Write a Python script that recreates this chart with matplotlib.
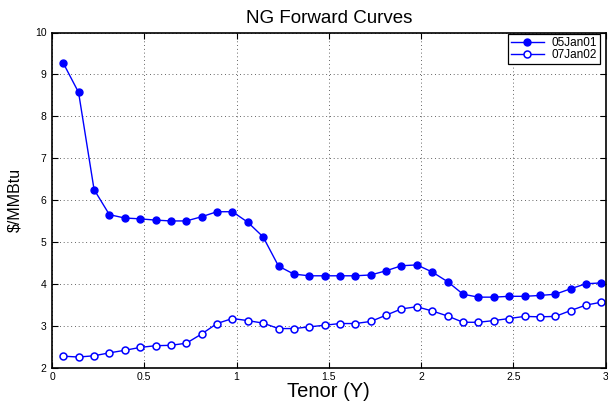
import matplotlib
matplotlib.use("Agg")
import matplotlib.pyplot as plt

plt.rcParams['font.family'] = ['Liberation Sans', 'DejaVu Sans']

tenor = [0.061, 0.144, 0.228, 0.311, 0.394, 0.478, 0.561, 0.644, 0.728, 0.811, 0.894, 0.978,
         1.061, 1.144, 1.228, 1.311, 1.394, 1.478, 1.561, 1.644, 1.728, 1.811, 1.894, 1.978,
         2.061, 2.144, 2.228, 2.311, 2.394, 2.478, 2.561, 2.644, 2.728, 2.811, 2.894, 2.978]
curve_05jan01 = [9.27, 8.57, 6.25, 5.65, 5.57, 5.55, 5.52, 5.50, 5.50, 5.60, 5.72, 5.72,
                 5.47, 5.12, 4.42, 4.23, 4.19, 4.19, 4.19, 4.19, 4.21, 4.31, 4.43, 4.45,
                 4.28, 4.05, 3.75, 3.68, 3.68, 3.70, 3.70, 3.72, 3.75, 3.88, 4.00, 4.02]
curve_07jan02 = [2.27, 2.25, 2.28, 2.35, 2.41, 2.48, 2.52, 2.53, 2.58, 2.80, 3.05, 3.17,
                 3.12, 3.06, 2.93, 2.93, 2.97, 3.01, 3.05, 3.05, 3.10, 3.25, 3.40, 3.45,
                 3.35, 3.23, 3.08, 3.08, 3.12, 3.17, 3.22, 3.21, 3.22, 3.36, 3.49, 3.56]
labels = ['05Jan01', '07Jan02']
xticks = [0, 0.5, 1, 1.5, 2, 2.5, 3]
xticklabels = ['0', '0.5', '1', '1.5', '2', '2.5', '3']
yticks = [2, 3, 4, 5, 6, 7, 8, 9, 10]

fig = plt.figure(figsize=(6.08, 4.01), dpi=100)
ax = fig.add_axes([52 / 608, 33.5 / 401, 553.5 / 608, 335 / 401])

ax.plot(tenor, curve_05jan01, '-o', color='blue', lw=1.0, ms=5.0,
        mfc='blue', mec='blue', label=labels[0])
ax.plot(tenor, curve_07jan02, '-o', color='blue', lw=1.0, ms=5.0,
        mfc='white', mec='blue', mew=1.1, label=labels[1])

ax.set_xlim(0, 3)
ax.set_ylim(2, 10)
ax.set_xticks(xticks)
ax.set_xticklabels(xticklabels)
ax.set_yticks(yticks)
ax.tick_params(direction='in', labelsize=7.5, length=4, top=True, right=True, width=0.8)
ax.tick_params(axis='x', pad=3)
ax.tick_params(axis='y', pad=4)
ax.grid(True, color='#303030', linewidth=0.6, linestyle=(0, (1, 3.5)))
for s in ax.spines.values():
    s.set_linewidth(1.2)
    s.set_color('black')

ax.set_title('NG Forward Curves', fontsize=13.5, pad=7)
ax.set_xlabel('Tenor (Y)', fontsize=14.5, labelpad=0)
ax.set_ylabel(r'\$/MMBtu', fontsize=11.5, labelpad=9)

leg = ax.legend(loc='upper right', bbox_to_anchor=(1 - 6 / 553.5, 1 - 2 / 335),
                borderaxespad=0, fontsize=8.5, fancybox=False, framealpha=1,
                edgecolor='black', handlelength=2.8, handletextpad=0.6,
                borderpad=0.25, labelspacing=0.0)
leg.get_frame().set_linewidth(0.9)

fig.savefig('out.png', dpi=100)
